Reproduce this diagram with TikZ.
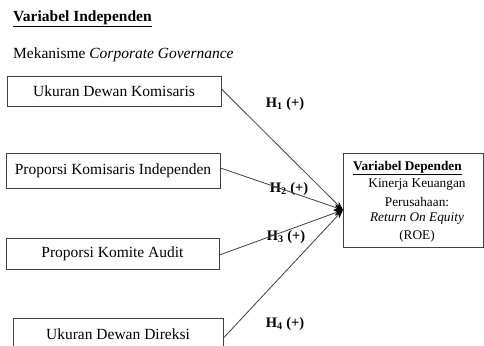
\documentclass[tikz,border=0pt]{standalone}
\usepackage{fontspec}
\setmainfont{Liberation Serif}
\usetikzlibrary{arrows.meta}
\begin{document}
\begin{tikzpicture}[x=1pt,y=-1pt,
  ivbox/.style={draw=black!75,line width=0.9pt,inner sep=0pt,font=\fontsize{15.5}{18}\selectfont},
  conn/.style={draw=black!75,line width=0.8pt,-{Stealth[length=9pt,width=6pt,black]}},
  hlab/.style={font=\fontsize{14.5}{16}\selectfont\bfseries},
  dtext/.style={font=\fontsize{13.3}{15}\selectfont,inner sep=0pt}]
\useasboundingbox[fill=white] (0,0) rectangle (484,345);
\node[anchor=west,inner sep=0pt,font=\fontsize{15.5}{18}\selectfont\bfseries] (ttl) at (13,19) {\underline{Variabel Independen}};
\node[anchor=west,inner sep=0pt,font=\fontsize{15.5}{18}\selectfont] (mek) at (13,55) {Mekanisme \textit{Corporate Governance}};
\node[ivbox,minimum width=214pt,minimum height=30pt] (b1) at (114,91) {Ukuran Dewan Komisaris};
\node[ivbox,minimum width=214pt,minimum height=35pt] (b2) at (113,170.5) {Proporsi Komisaris Independen};
\node[ivbox,minimum width=213pt,minimum height=31pt] (b3) at (112.5,253.5) {Proporsi Komite Audit};
\node[ivbox,minimum width=210pt,minimum height=32pt] (b4) at (118,334) {Ukuran Dewan Direksi};
\node[draw=black!75,line width=0.9pt,minimum width=140pt,minimum height=94pt,inner sep=0pt] (dep) at (413,200) {};
\coordinate (tip) at (343,210);
\node[dtext,anchor=west,font=\fontsize{13.3}{15}\selectfont\bfseries] (d1) at (353,168) {\underline{Variabel Dependen}};
\node[dtext] (d2) at (417,185) {Kinerja Keuangan};
\node[dtext] (d3) at (417,202) {Perusahaan:};
\node[dtext] (d4) at (417,219) {\textit{Return On Equity}};
\node[dtext] (d5) at (417,236) {(ROE)};
\node[hlab] (h1) at (285,104) {H\textsubscript{1} (+)};
\node[hlab] (h2) at (289,189) {H\textsubscript{2} (+)};
\node[hlab] (h3) at (286,237) {H\textsubscript{3} (+)};
\node[hlab] (h4) at (285,324) {H\textsubscript{4} (+)};
\draw[conn] ([yshift=2pt]b1.east) -- (tip);
\draw[conn] ([yshift=2.5pt]b2.east) -- (tip);
\draw[conn] ([yshift=-1.5pt]b3.east) -- (tip);
\draw[conn] ([yshift=-4pt]b4.east) -- (tip);
\end{tikzpicture}
\end{document}
